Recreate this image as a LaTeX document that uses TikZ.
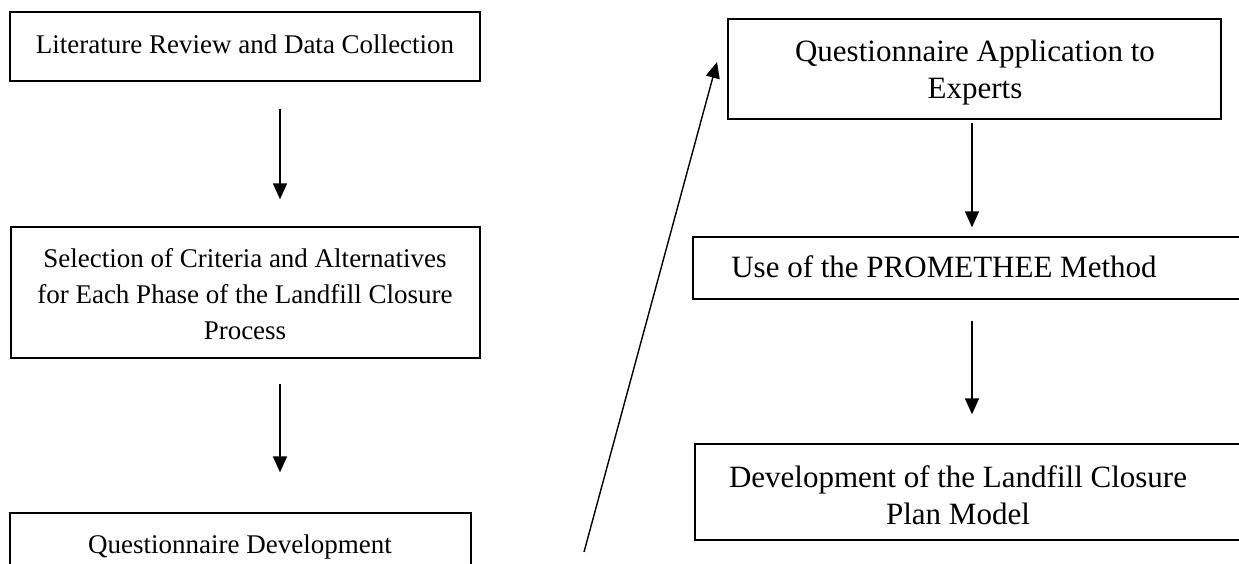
\documentclass[tikz,border=0pt]{standalone}
\usepackage{fontspec}
\setmainfont{Liberation Serif}
\usetikzlibrary{arrows.meta}
\begin{document}
\begin{tikzpicture}[x=1pt,y=-1pt,
  box/.style={draw, line width=1.3pt, inner sep=0pt},
  txt/.style={anchor=base, inner sep=0pt, font=\fontsize{27}{36}\selectfont, align=center},
  txtr/.style={txt, font=\fontsize{31}{37}\selectfont},
  arr/.style={line width=1.4pt, -{Triangle[width=14pt,length=16pt]}}]
\useasboundingbox (0,0) rectangle (1239,563);
% left column boxes
\node[box, minimum width=470pt, minimum height=69pt] (b1) at (245,46.5) {};
\node[box, minimum width=469pt, minimum height=131pt] (b2) at (245.5,292.5) {};
\node[box, minimum width=461pt, minimum height=87pt] (b3) at (240.5,556.5) {};
% right column boxes
\node[box, minimum width=493pt, minimum height=100pt] (r1) at (974.5,69) {};
\node[box, minimum width=557pt, minimum height=62pt] (r2) at (971.5,268) {};
\node[box, minimum width=555pt, minimum height=96pt] (r3) at (972.5,492) {};
% texts (anchor = baseline of the last line)
\node[txt] (t1) at (245,53) {Literature Review and Data Collection};
\node[txt] (t2) at (245,339) {Selection of Criteria and Alternatives\\for Each Phase of the Landfill Closure\\Process};
\node[txt] (t3) at (240,553) {Questionnaire Development};
\node[txtr] (tr1) at (975,98) {Questionnaire Application to\\Experts};
\node[txtr] (tr2) at (944,277) {Use of the PROMETHEE Method};
\node[txtr] (tr3) at (958,524) {Development of the Landfill Closure\\Plan Model};
% arrow columns
\coordinate (cl) at (280,0);
\coordinate (cr) at (972,0);
\coordinate (ds) at (584,552);
\coordinate (de) at (717,62);
\draw[arr, shorten <=27pt, shorten >=27pt] (b1.south -| cl) -- (b2.north -| cl);
\draw[arr, shorten <=25pt, shorten >=40pt] (b2.south -| cl) -- (b3.north -| cl);
\draw[arr] (ds) -- (de);
\draw[arr, shorten <=3pt, shorten >=9pt] (r1.south -| cr) -- (r2.north -| cr);
\draw[arr, shorten <=21pt, shorten >=29pt] (r2.south -| cr) -- (r3.north -| cr);
\end{tikzpicture}
\end{document}
